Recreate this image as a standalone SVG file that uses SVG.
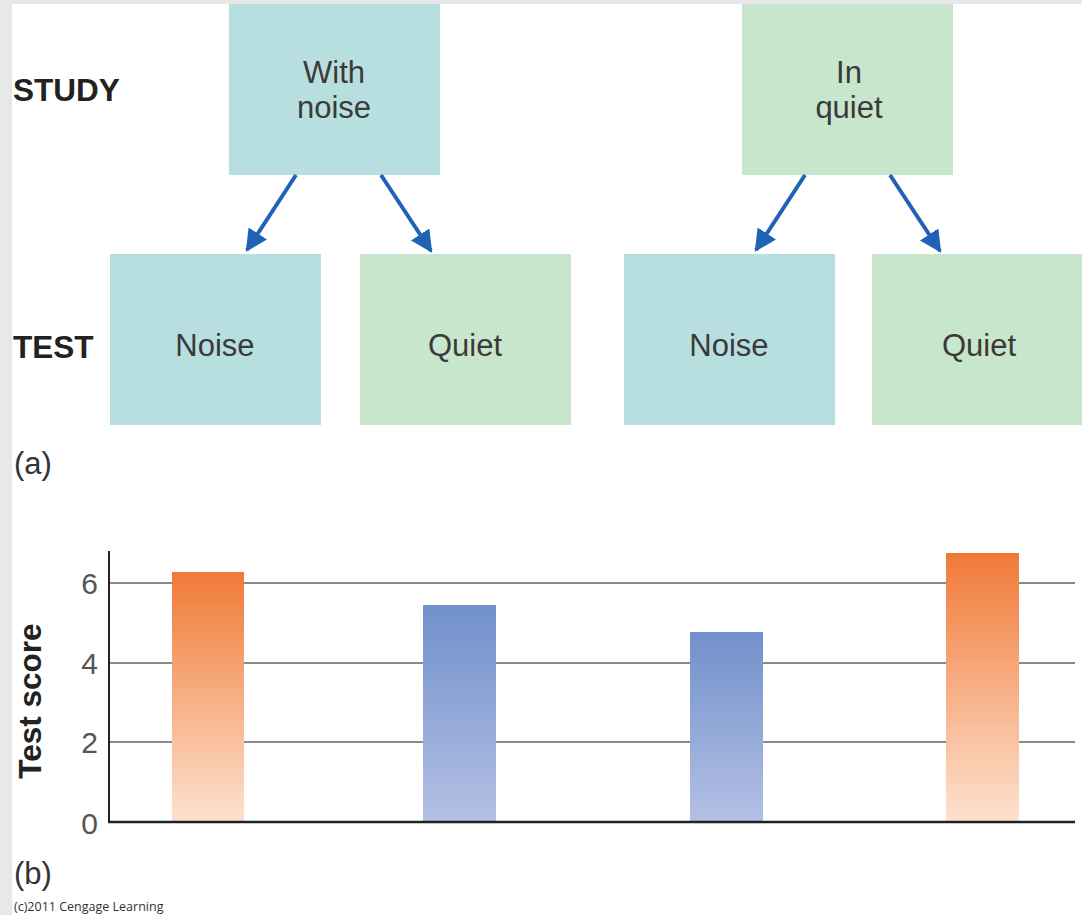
<svg xmlns="http://www.w3.org/2000/svg" width="1082" height="915" viewBox="0 0 1082 915">
  <style>
    .lbl { font-family: "Liberation Sans", Arial, sans-serif; font-size: 31px; fill: #3a3a3a; text-anchor: middle; }
    .row { font-family: "Liberation Sans", Arial, sans-serif; font-size: 31.5px; font-weight: bold; fill: #222; }
    .part { font-family: "Liberation Sans", Arial, sans-serif; font-size: 31px; fill: #333; }
    .tick { font-family: "Liberation Sans", Arial, sans-serif; font-size: 30px; fill: #555; text-anchor: end; }
    .noise { fill: #b8dfdf; }
    .quiet { fill: #c8e6cc; }
    .arrow { stroke: #1f62b6; stroke-width: 4; fill: none; marker-end: url(#head); }
    .grid { stroke: #8a8a8a; stroke-width: 2; }
  </style>
  <defs>
    <marker id="head" viewBox="0 0 10 10" refX="9" refY="5" markerWidth="5.5" markerHeight="5.5" orient="auto" markerUnits="strokeWidth">
      <path d="M0,0 L10,5 L0,10 z" fill="#1f62b6"/>
    </marker>
    <linearGradient id="orange" x1="0" y1="0" x2="0" y2="1">
      <stop offset="0" stop-color="#f07a38"/>
      <stop offset="1" stop-color="#fde2d0"/>
    </linearGradient>
    <linearGradient id="blue" x1="0" y1="0" x2="0" y2="1">
      <stop offset="0" stop-color="#7190cb"/>
      <stop offset="1" stop-color="#b4c0e4"/>
    </linearGradient>
  </defs>

  <!-- page background and frame strips -->
  <rect x="0" y="0" width="1082" height="915" fill="#ffffff"/>
  <rect x="0" y="0" width="1082" height="4" fill="#e8e8e8"/>
  <rect x="0" y="0" width="12" height="915" fill="#e8e8e8"/>

  <!-- row labels -->
  <text class="row" x="13" y="101">STUDY</text>
  <text class="row" x="13" y="358" font-size="32">TEST</text>

  <!-- study conditions -->
  <g id="study-noise">
    <rect class="noise" x="229" y="4" width="211" height="171"/>
    <text class="lbl" x="334" y="83">With</text>
    <text class="lbl" x="334" y="118">noise</text>
  </g>
  <g id="study-quiet">
    <rect class="quiet" x="742" y="4" width="211" height="171"/>
    <text class="lbl" x="849" y="83">In</text>
    <text class="lbl" x="849" y="118">quiet</text>
  </g>

  <!-- test conditions -->
  <g id="test-noise-1">
    <rect class="noise" x="110" y="254" width="211" height="171"/>
    <text class="lbl" x="215" y="356">Noise</text>
  </g>
  <g id="test-quiet-1">
    <rect class="quiet" x="360" y="254" width="211" height="171"/>
    <text class="lbl" x="465" y="356">Quiet</text>
  </g>
  <g id="test-noise-2">
    <rect class="noise" x="624" y="254" width="211" height="171"/>
    <text class="lbl" x="729" y="356">Noise</text>
  </g>
  <g id="test-quiet-2">
    <rect class="quiet" x="872" y="254" width="210" height="171"/>
    <text class="lbl" x="979" y="356">Quiet</text>
  </g>

  <!-- connectors -->
  <g id="connectors">
    <line class="arrow" x1="296" y1="175" x2="247" y2="250"/>
    <line class="arrow" x1="381" y1="175" x2="431" y2="251"/>
    <line class="arrow" x1="805" y1="175" x2="756" y2="250"/>
    <line class="arrow" x1="890" y1="175" x2="940" y2="251"/>
  </g>

  <text class="part" x="14" y="474">(a)</text>

  <!-- bar chart -->
  <g id="chart">
    <line class="grid" x1="109" y1="583" x2="1075" y2="583"/>
    <line class="grid" x1="109" y1="663" x2="1075" y2="663"/>
    <line class="grid" x1="109" y1="742" x2="1075" y2="742"/>
    <rect x="172" y="572" width="72" height="250" fill="url(#orange)"/>
    <rect x="423" y="605" width="73" height="217" fill="url(#blue)"/>
    <rect x="690" y="632" width="73" height="190" fill="url(#blue)"/>
    <rect x="946" y="553" width="73" height="269" fill="url(#orange)"/>
    <line x1="109" y1="551" x2="109" y2="823" stroke="#222" stroke-width="2"/>
    <line x1="108" y1="822" x2="1075" y2="822" stroke="#222" stroke-width="2.5"/>
    <text class="tick" x="98" y="594">6</text>
    <text class="tick" x="98" y="674">4</text>
    <text class="tick" x="98" y="753">2</text>
    <text class="tick" x="98" y="834">0</text>
    <text class="row" font-size="33" x="0" y="0" text-anchor="middle" transform="translate(41,701) rotate(-90)">Test score</text>
  </g>

  <text class="part" x="14" y="884">(b)</text>
  <text x="14" y="911" font-family="'Open Sans', 'Liberation Sans', sans-serif" font-size="12.5" fill="#333">(c)2011 Cengage Learning</text>
</svg>
